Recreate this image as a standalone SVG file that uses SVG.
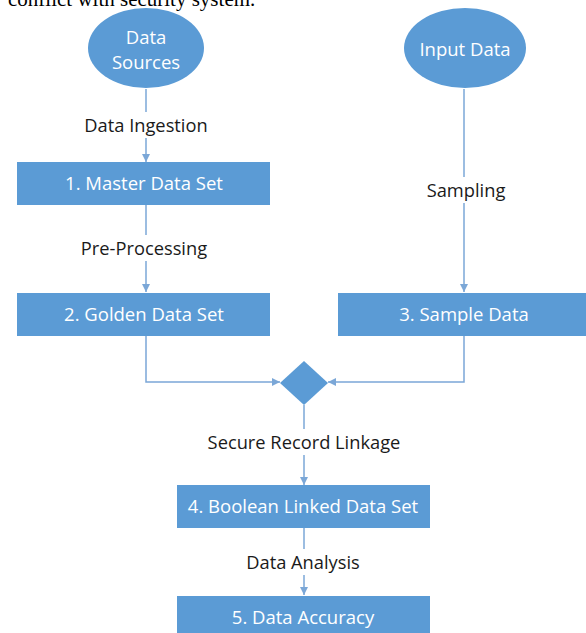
<svg xmlns="http://www.w3.org/2000/svg" width="586" height="633" viewBox="0 0 586 633">
<style>
.node{fill:#5B9BD5}
.nt{fill:#ffffff;font-family:"Open Sans","Liberation Sans",sans-serif;font-size:18.5px;text-anchor:middle;dominant-baseline:central}
.lb{fill:#1a1a1a;font-family:"Open Sans","Liberation Sans",sans-serif;font-size:18.3px;text-anchor:middle;dominant-baseline:central}
.ln{fill:none;stroke:#7BA7D7;stroke-width:1.5}
.cap{fill:#000;font-family:"Liberation Serif","Times New Roman",serif;font-size:21px}
</style>
<defs>
<marker id="ah" viewBox="0 0 10 10" refX="10" refY="5" markerWidth="8" markerHeight="8" markerUnits="userSpaceOnUse" orient="auto">
<path d="M0,0 L10,5 L0,10 z" fill="#7BA7D7"/>
</marker>
</defs>
<rect width="586" height="633" fill="#ffffff"/>
<text class="cap" x="8" y="6">conflict with security system.</text>
<g id="connectors">
<line class="ln" x1="146" y1="89" x2="146" y2="112"/>
<line class="ln" x1="146" y1="138" x2="146" y2="162" marker-end="url(#ah)"/>
<line class="ln" x1="146" y1="205" x2="146" y2="235"/>
<line class="ln" x1="146" y1="261" x2="146" y2="292" marker-end="url(#ah)"/>
<line class="ln" x1="464" y1="89" x2="464" y2="177"/>
<line class="ln" x1="464" y1="203" x2="464" y2="292" marker-end="url(#ah)"/>
<polyline class="ln" points="146,336 146,382 280,382" marker-end="url(#ah)"/>
<polyline class="ln" points="464,336 464,382 328,382" marker-end="url(#ah)"/>
<line class="ln" x1="304" y1="405" x2="304" y2="429"/>
<line class="ln" x1="304" y1="455" x2="304" y2="485" marker-end="url(#ah)"/>
<line class="ln" x1="304" y1="528" x2="304" y2="549"/>
<line class="ln" x1="304" y1="575" x2="304" y2="595" marker-end="url(#ah)"/>
<text class="lb" x="146" y="124">Data Ingestion</text>
<text class="lb" x="144" y="247">Pre-Processing</text>
<text class="lb" x="466" y="189">Sampling</text>
<text class="lb" x="304" y="441">Secure Record Linkage</text>
<text class="lb" x="303" y="561">Data Analysis</text>
</g>
<g id="data-sources">
<ellipse class="node" cx="146" cy="48" rx="58" ry="40"/>
<text class="nt" x="146" y="36">Data</text>
<text class="nt" x="146" y="61">Sources</text>
</g>
<g id="input-data">
<ellipse class="node" cx="465" cy="48" rx="61" ry="40"/>
<text class="nt" x="465" y="48">Input Data</text>
</g>
<g id="master-data-set">
<rect class="node" x="17" y="162" width="253" height="43"/>
<text class="nt" x="144" y="182">1. Master Data Set</text>
</g>
<g id="golden-data-set">
<rect class="node" x="17" y="293" width="253" height="43"/>
<text class="nt" x="144" y="313">2. Golden Data Set</text>
</g>
<g id="sample-data">
<rect class="node" x="338" y="293" width="250" height="43"/>
<text class="nt" x="464" y="313">3. Sample Data</text>
</g>
<g id="merge">
<polygon class="node" points="304,361 328,383 304,405 280,383"/>
</g>
<g id="boolean-linked-data-set">
<rect class="node" x="177" y="485" width="253" height="43"/>
<text class="nt" x="303" y="505">4. Boolean Linked Data Set</text>
</g>
<g id="data-accuracy">
<rect class="node" x="177" y="596" width="253" height="40"/>
<text class="nt" x="303" y="616">5. Data Accuracy</text>
</g>
</svg>
